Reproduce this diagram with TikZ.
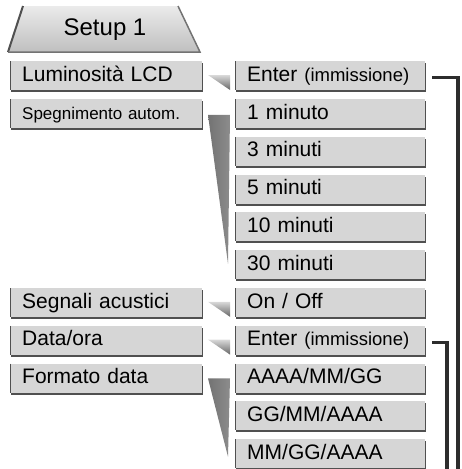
\documentclass[tikz,border=0pt]{standalone}
\usepackage{fontspec}
\setmainfont{Liberation Sans}
\usetikzlibrary{positioning,calc,shadows}

\definecolor{boxgray}{RGB}{214,214,214}
\definecolor{edgegray}{RGB}{80,80,80}
\definecolor{linegray}{RGB}{45,45,45}

\newcommand{\itemfont}{\fontsize{21}{21}\selectfont}
\newcommand{\smallitemfont}{\fontsize{17}{17}\selectfont}
\newcommand{\notefont}{\fontsize{18.5}{18.5}\selectfont}

\tikzset{
  menuitem/.style={fill=boxgray, anchor=north west, inner xsep=12pt, inner ysep=0pt,
    minimum height=29pt, text height=15pt, text depth=4pt, align=left, font=\itemfont,
    drop shadow={shadow xshift=1pt, shadow yshift=-2pt, fill=edgegray, opacity=1},
    path picture={\draw[edgegray, line width=2.5pt]
      (path picture bounding box.north west) -- (path picture bounding box.south west);}},
  leftitem/.style={menuitem, text width=168pt},
  rightitem/.style={menuitem, text width=166pt},
  pointer/.style={shading=axis, left color=black!55, middle color=white, right color=black!45},
  smallpointer/.style={shading=axis, top color=black!15, bottom color=black!60},
  bracket/.style={draw=linegray, line width=3.5pt}
}

\begin{document}
\begin{tikzpicture}[x=1pt,y=1pt]
\useasboundingbox (0,0) rectangle (461,-469);
% tab
\shade[top color=black!8, bottom color=black!25] (8,-52) -- (23,-6) -- (178,-6) -- (200,-52) -- cycle;
\draw[edgegray, line width=2pt] (8,-52) -- (23,-6);
\draw[black!55, line width=1.5pt] (178,-6) -- (200,-52) -- (8,-52);
\node[font=\fontsize{24}{24}\selectfont] (setup) at (105,-30) {Setup 1};
% right column
\foreach \lbl [count=\i] in {{Enter {\notefont(immissione)}},1 minuto,3 minuti,5 minuti,
  10 minuti,30 minuti,On / Off,{Enter {\notefont(immissione)}},AAAA/MM/GG,GG/MM/AAAA,MM/GG/AAAA}
  \node[rightitem] (r\i) at (235,{-61-(\i-1)*37.8}) {\lbl};
% left column
\node[leftitem] (lum) at (10,-61) {Luminosità LCD};
\node[leftitem, font=\smallitemfont] (speg) at (10,-98.8) {Spegnimento autom.};
\node[leftitem] (segn) at (10,-287.8) {Segnali acustici};
\node[leftitem] (data) at (10,-325.6) {Data/ora};
\node[leftitem] (form) at (10,-363.4) {Formato data};
% pointers
\foreach \r in {1,7,8}
  \shade[smallpointer, shift={(r\r.north west)}] (-27,-14) -- (-5,-14) -- (-5,-29) -- cycle;
\shade[pointer] ($(r2.north west)+(-27,-16)$) -- ($(r2.north west)+(-5,-16)$) -- ($(r6.west)+(-7,1)$) -- cycle;
\shade[pointer] ($(r9.north west)+(-27,-15)$) -- ($(r9.north west)+(-5,-15)$) -- ($(r11.west)+(-7,-3)$) -- cycle;
% brackets
\coordinate (b1) at (458,-469);
\coordinate (b2) at (447,-469);
\draw[bracket] ([xshift=7pt,yshift=-2pt]r1.east) -| (b1);
\draw[bracket] ([xshift=7pt,yshift=-2pt]r8.east) -| (b2);
\end{tikzpicture}
\end{document}
